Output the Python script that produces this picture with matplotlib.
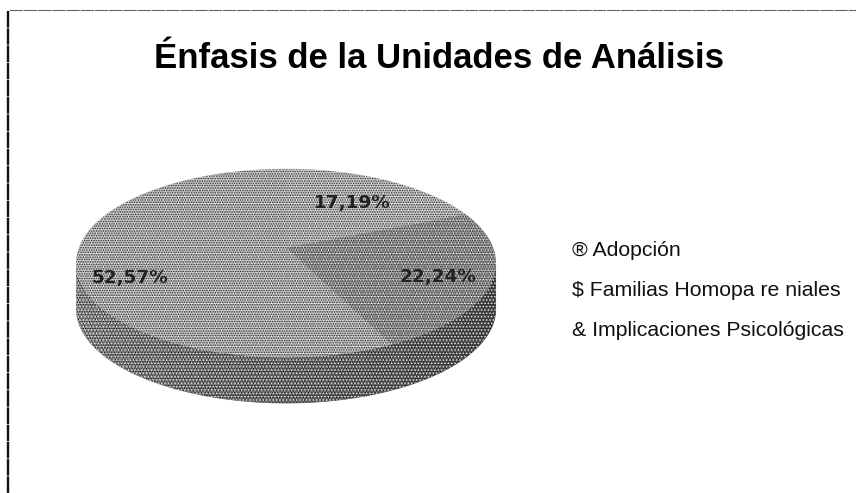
import numpy as np
import matplotlib
matplotlib.use('Agg')
import matplotlib.pyplot as plt

# values as printed on the chart, they do not add up to 100
categories = ['Adopción', 'Familias Homopa re niales', 'Implicaciones Psicológicas']
bullets = ['®', '$', '&']
values = [17.19, 22.24, 52.57]
labels = ['17,19%', '22,24%', '52,57%']
title = 'Énfasis de la Unidades de Análisis'

face_colors = ['#c2c2c2', '#959595', '#bcbcbc']

# pie placement in pixels
cx, cy = 286, 248
scale_x, scale_y = 207, 91.6
persp = 0.16
depth = 46


def project(theta):
    # theta clockwise from the top, far side gets squeezed
    u, v = np.sin(theta), np.cos(theta)
    w = 1 + persp * v
    return cx + scale_x * u / w, cy - scale_y * v / w


plt.rcParams['hatch.linewidth'] = 0.7
fig = plt.figure(figsize=(8.56, 4.93), dpi=100)
ax = fig.add_axes([0, 0, 1, 1])
ax.set_xlim(0, 856)
ax.set_ylim(493, 0)
ax.axis('off')

# scan border
ax.plot([8, 8], [11, 493], color='#111111', lw=1.7, ls=(0, (7, 0.3)))
ax.plot([9, 856], [10, 10], color='#666666', lw=0.8, ls=(0, (12, 0.8)))

# side wall, from the leftmost rim point round the front to the rightmost
side = np.linspace(np.radians(100), np.radians(260), 80)
sx, sy = project(side)
bands = 16
for i in range(bands):
    a = i * len(side) // bands
    b = min((i + 1) * len(side) // bands + 1, len(side))
    shade = 0.28 + 0.30 * i / (bands - 1)
    ax.fill(np.r_[sx[a:b], sx[a:b][::-1]], np.r_[sy[a:b], sy[a:b][::-1] + depth],
            color=str(shade), lw=0.5, zorder=2)
ax.fill(np.r_[sx, sx[::-1]], np.r_[sy, sy[::-1] + depth], facecolor='none',
        edgecolor='#111111', hatch='.......', lw=0, zorder=3)
ax.fill(np.r_[sx, sx[::-1]], np.r_[sy, sy[::-1] + depth], facecolor='none',
        edgecolor='#e4e4e4', hatch='.....', lw=0, zorder=3)

# top faces
fracs = np.array(values) / sum(values)
edges = np.r_[0, np.cumsum(fracs)] * 2 * np.pi
for i, color in enumerate(face_colors):
    theta = np.linspace(edges[i], edges[i + 1], 120)
    px, py = project(theta)
    px, py = np.r_[cx, px], np.r_[cy, py]
    ax.fill(px, py, color=color, lw=0.4, zorder=4)
    ax.fill(px, py, facecolor='none', edgecolor='#ffffff', hatch='.....', lw=0, zorder=5)
    ax.fill(px, py, facecolor='none', edgecolor='#2e2e2e', hatch='.......', lw=0, zorder=5)

# data labels
label_pos = [(352, 203), (438, 277), (130, 278)]
for text, (x, y) in zip(labels, label_pos):
    ax.text(x, y, text, ha='center', va='center', family='DejaVu Sans', weight='bold',
            fontsize=13.2, color='#222222', zorder=6)

ax.text(439, 59, title, ha='center', va='center', family='Liberation Sans',
        weight='bold', fontsize=25, color='black')

legend_y = [250, 290, 331]
for bullet, name, y in zip(bullets, categories, legend_y):
    ax.text(572, y, f'{bullet} {name}', ha='left', va='center',
            family='Liberation Sans', fontsize=15.3, color='#111111')

fig.savefig('out.png', dpi=100)
